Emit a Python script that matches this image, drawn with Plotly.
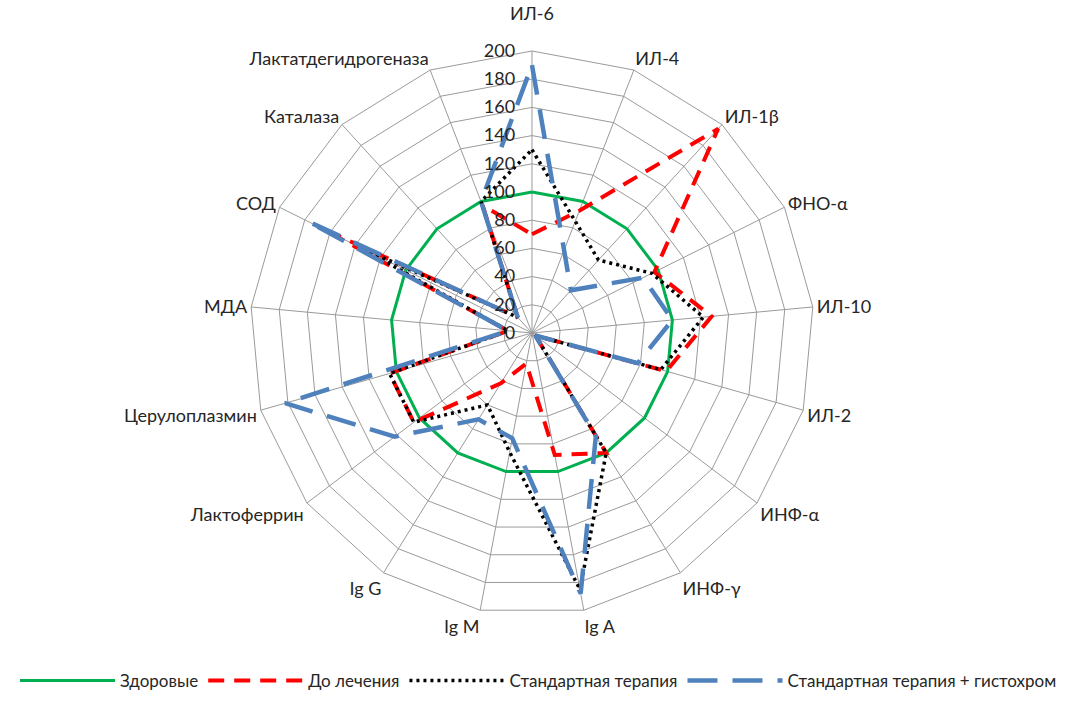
import plotly.graph_objects as go

categories = ["ИЛ-6", "ИЛ-4", "ИЛ-1β", "ФНО-α", "ИЛ-10", "ИЛ-2", "ИНФ-α", "ИНФ-γ",
              "Ig A", "Ig M", "Ig G", "Лактоферрин", "Церулоплазмин", "МДА", "СОД",
              "Каталаза", "Лактатдегидрогеназа"]

healthy = [100] * 17
before = [70, 93, 196, 97, 128, 99, 3, 100, 88, 22, 42, 105, 105, 17, 165, 15, 97]
standard = [130, 85, 70, 95, 122, 95, 3, 100, 185, 86, 60, 105, 105, 17, 135, 15, 100]
histochrome = [190, 63, 41, 88, 100, 78, 3, 86, 188, 76, 72, 122, 182, 17, 177, 15, 100]

series_names = ["Здоровые", "До лечения", "Стандартная терапия",
                "Стандартная терапия + гистохром"]

radial_ticks = list(range(0, 201, 20))

# the top label gets an empty second line so it sits clear of the "200" tick label
angular_text = [c + "<br> " if i == 0 else c for i, c in enumerate(categories)]


def closed(vals):
    return list(vals) + [vals[0]]


theta = closed(categories)

styles = [
    dict(color="#00B050", width=3, dash="solid"),
    dict(color="#FF0000", width=4, dash="16px,10px"),
    dict(color="#000000", width=3.5, dash="3px,4px"),
    dict(color="#4F81BD", width=4.5, dash="30px,15px"),
]

fig = go.Figure()
for name, vals, st in zip(series_names, [healthy, before, standard, histochrome], styles):
    fig.add_trace(go.Scatterpolar(
        r=closed(vals), theta=theta, mode="lines", name=name,
        line=st, hoverinfo="skip",
    ))

grid = "#9a9a9a"
fig.update_layout(
    width=1077, height=702,
    margin=dict(l=0, r=0, t=0, b=0),
    paper_bgcolor="white",
    font=dict(family="Lato, Open Sans, sans-serif", size=16, color="#262626"),
    polar=dict(
        domain=dict(x=[0.2321, 0.7558], y=[0.1239, 0.9274]),
        bgcolor="white",
        gridshape="linear",
        angularaxis=dict(
            rotation=90, direction="clockwise",
            categoryorder="array", categoryarray=categories,
            tickmode="array", tickvals=categories, ticktext=angular_text,
            showline=True, linecolor=grid, linewidth=1,
            gridcolor=grid, gridwidth=1,
            ticks="", tickfont=dict(size=18, color="#262626"),
        ),
        radialaxis=dict(
            range=[0, 200], tickvals=radial_ticks, ticktext=[str(v) for v in radial_ticks],
            angle=90, tickangle=90, side="counterclockwise",
            showline=False, gridcolor=grid, gridwidth=1,
            ticks="outside", ticklen=10, tickcolor="rgba(0,0,0,0)",
            tickfont=dict(size=18, color="#262626"),
        ),
    ),
    legend=dict(
        orientation="h", x=0.5, xanchor="center", y=0.03, yanchor="middle",
        font=dict(size=17, color="#262626"), itemwidth=95,
        bgcolor="rgba(0,0,0,0)",
    ),
)

fig.write_html("out.html")
